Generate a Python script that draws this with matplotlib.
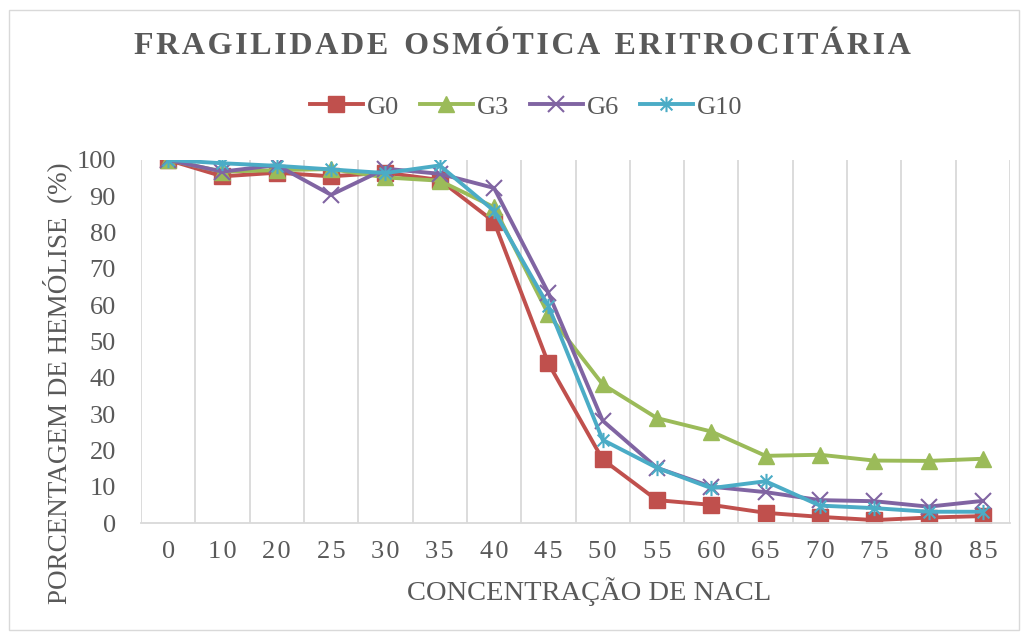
import matplotlib
matplotlib.use("Agg")
import matplotlib.pyplot as plt
from matplotlib.path import Path
from matplotlib.patches import Rectangle

# data
concentracao = ["0", "10", "20", "25", "30", "35", "40", "45", "50", "55", "60", "65", "70", "75", "80", "85"]
g0 = [100, 95.5, 96.5, 95.5, 96.5, 94.5, 83, 44, 17.5, 6.3, 5, 2.8, 1.7, 0.8, 1.5, 1.9]
g3 = [100, 96.8, 97.2, 97.5, 95.2, 94.3, 87, 57.5, 38.2, 28.9, 25.2, 18.5, 18.8, 17.2, 17.1, 17.7]
g6 = [100, 96.8, 98.6, 90.4, 97.6, 96.2, 92.3, 63.4, 28.2, 15.2, 10, 8.5, 6.3, 6, 4.5, 6.1]
g10 = [100, 99.1, 98.4, 97.4, 96.4, 98.5, 86, 59.8, 22.9, 15.2, 9.6, 11.5, 4.8, 4.1, 3.1, 3.1]
titulo = "FRAGILIDADE OSMÓTICA ERITROCITÁRIA"

plt.rcParams['font.family'] = ['Liberation Serif', 'DejaVu Serif']
cinza = "#595959"

fig = plt.figure(figsize=(10.28, 6.34), dpi=100)
ax = fig.add_axes([141/1028, 1 - 523/634, (1010 - 141)/1028, (523 - 160)/634])

# outer chart border
fig.patches.append(Rectangle((9/1028, 4/634), 1010/1028, 620/634, transform=fig.transFigure,
                             fill=False, edgecolor="#d9d9d9", linewidth=1))

# star marker like excel (x plus vertical bar)
estrela = Path([(-1, -1), (1, 1), (-1, 1), (1, -1), (0, -1.3), (0, 1.3)],
               [Path.MOVETO, Path.LINETO, Path.MOVETO, Path.LINETO, Path.MOVETO, Path.LINETO])

x = list(range(len(concentracao)))
ax.plot(x, g0, color="#C0504D", marker="s", markersize=12, linewidth=2.8, label="G0")
ax.plot(x, g3, color="#9BBB59", marker="^", markersize=12, linewidth=2.8, label="G3")
ax.plot(x, g6, color="#8064A2", marker="x", markersize=12, markeredgewidth=1.5, linewidth=2.8, label="G6")
ax.plot(x, g10, color="#4BACC6", marker=estrela, markersize=11, markeredgewidth=1.5, linewidth=2.8, label="G10")

ax.set_xlim(-0.5, len(x) - 0.5)
ax.set_ylim(0, 100)
for k in range(len(x) + 1):
    ax.axvline(k - 0.5, color="#d9d9d9", linewidth=1.3, zorder=0)

ax.set_xticks(x)
ax.set_xticklabels(["\u200a".join(c) for c in concentracao])
ax.set_yticks(range(0, 101, 10))
ax.tick_params(axis="both", length=0, labelsize=19, labelcolor=cinza)
ax.tick_params(axis="x", pad=13)
ax.tick_params(axis="y", pad=18)
for s in ["top", "right", "left"]:
    ax.spines[s].set_visible(False)
ax.spines["bottom"].set_color("#d9d9d9")
ax.spines["bottom"].set_linewidth(1.3)

ax.set_xlabel("CONCENTRAÇÃO DE NACL", fontsize=20.5, color=cinza)
ax.xaxis.set_label_coords((589 - 141)/869, -(592 - 523)/363)
ax.xaxis.label.set_va("center")
ax.set_ylabel("PORCENTAGEM DE HEMÓLISE  (%)", fontsize=19.5, color=cinza)
ax.yaxis.set_label_coords(-(141 - 57)/869, (523 - 383)/363)
ax.yaxis.label.set_va("center")

# spaced out title letters
titulo_esp = "  ".join("\u200a".join(p) for p in titulo.split(" "))
fig.text(522/1028, 1 - 47/634, titulo_esp, ha="center", va="center", fontsize=23,
         fontweight="bold", color=cinza)

ax.legend(loc="center", bbox_to_anchor=((526 - 141)/869, (523 - 107)/363), ncol=4, frameon=False,
          fontsize=19, labelcolor=cinza, handlelength=2.0, handletextpad=0.15, columnspacing=0.8,
          bbox_transform=ax.transAxes)

fig.savefig("out.png", dpi=100)
